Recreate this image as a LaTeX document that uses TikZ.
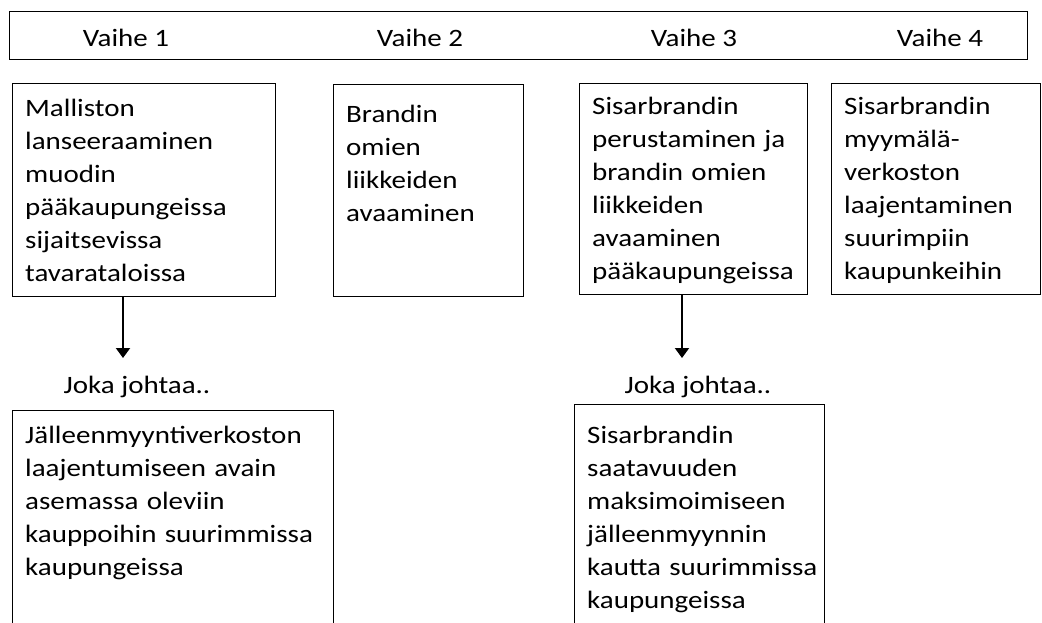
\documentclass[tikz,border=0pt]{standalone}
\usepackage{fontspec}
\setmainfont{Carlito}[FakeStretch=1.16]
\usetikzlibrary{arrows.meta}

\begin{document}
\begin{tikzpicture}
[x=1pt,y=-1pt,
  frameDecorate/.style={draw,line width=1pt,inner sep=0pt,anchor=north west},%
  textDecorate/.style={anchor=base west,inner sep=0pt,align=left,text width=330pt},%
  arrowDecorate/.style={-{Triangle[length=10pt,width=14pt]},line width=2pt}]
\fontsize{25}{33}\selectfont
\useasboundingbox (0,0) rectangle (1042,623);
\clip (0,0) rectangle (1042,623);
%% phase bar
\node (bar) at (9,11) [frameDecorate,minimum width=1018pt,minimum height=48pt] {};
\foreach \n/\x in {1/126, 2/420, 3/694, 4/940}
{
  \node (phase\n) at (\x,47) [anchor=base] {Vaihe \n};
}
%% boxes
\foreach \name/\x/\y/\w/\h/\dy/\txt in {
  box1/12/83/263/213/34/{Malliston\\lanseeraaminen\\muodin\\pääkaupungeissa\\sijaitsevissa\\tavarataloissa},
  box2/333/84/190/212/39/{Brandin\\omien\\liikkeiden\\avaaminen},
  box3/579/83/228/211/32/{Sisarbrandin\\perustaminen ja\\brandin omien\\liikkeiden\\avaaminen\\pääkaupungeissa},
  box4/831/83/209/211/32/{Sisarbrandin\\myymälä-\\verkoston\\laajentaminen\\suurimpiin\\kaupunkeihin},
  box5/12/410/321/250/33/{Jälleenmyyntiverkoston\\laajentumiseen avain\\asemassa oleviin\\kauppoihin suurimmissa\\kaupungeissa},
  box6/574/404/250/250/39/{Sisarbrandin\\saatavuuden\\maksimoimiseen\\jälleenmyynnin\\kautta suurimmissa\\kaupungeissa}}
{
  \node (\name) at (\x,\y) [frameDecorate,minimum width=\w pt,minimum height=\h pt] {};
  \node (\name txt) at ([xshift=13pt,yshift=-\dy pt]\name.north west) [textDecorate] {\txt};
}
%% leads
\node (lead1) at (137,393) [anchor=base] {Joka johtaa..};
\node (lead2) at (698,393) [anchor=base] {Joka johtaa..};
\coordinate (tip1) at (123,358);
\coordinate (tip2) at (682,358);
\draw[arrowDecorate] (tip1 |- box1.south) -- (tip1);
\draw[arrowDecorate] (tip2 |- box3.south) -- (tip2);
\end{tikzpicture}
\end{document}
